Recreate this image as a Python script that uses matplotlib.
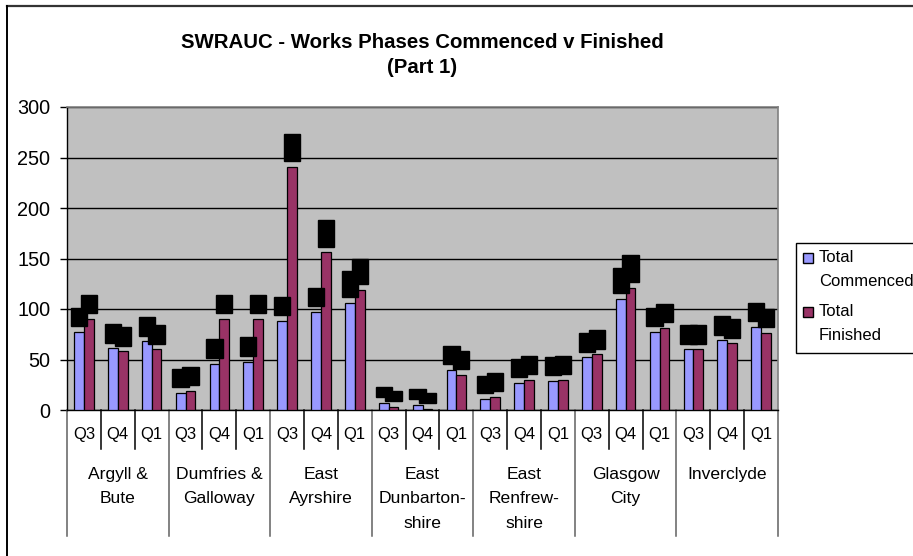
import numpy as np
import matplotlib
matplotlib.use('Agg')
import matplotlib.pyplot as plt
from matplotlib.patches import Rectangle
from matplotlib.lines import Line2D
import matplotlib.transforms as mtransforms

plt.rcParams['font.family'] = ['Liberation Sans', 'DejaVu Sans']

# -----------------------------------------------------------------------------
# DATOS
# -----------------------------------------------------------------------------
consejos = ['Argyll &\nBute', 'Dumfries &\nGalloway', 'East\nAyrshire',
            'East\nDunbarton-\nshire', 'East\nRenfrew-\nshire',
            'Glasgow\nCity', 'Inverclyde']
trimestres = ['Q3', 'Q4', 'Q1']

comenzados = [77, 61, 68,
              17, 46, 48,
              88, 97, 106,
              7, 5, 40,
              11, 27, 29,
              52, 110, 77,
              60, 69, 82]
terminados = [90, 58, 60,
              19, 90, 90,
              241, 156, 119,
              3, 1, 35,
              13, 30, 30,
              55, 121, 81,
              60, 66, 76]

COL_AZUL = '#9999FF'
COL_GRANATE = '#993366'

# -----------------------------------------------------------------------------
# FIGURA
# -----------------------------------------------------------------------------
W, H = 913, 556
fig = plt.figure(figsize=(W / 100, H / 100), dpi=100)
fig.patch.set_facecolor('white')

def fx(px):
    return px / W

def fy(py):
    return 1 - py / H

ax = fig.add_axes([fx(67), fy(410), fx(778) - fx(67), fy(107) - fy(410)])
ax.set_facecolor('#C0C0C0')

n = len(comenzados)
x = np.arange(n)
ancho = 0.29

b1 = ax.bar(x - ancho / 2, comenzados, ancho, color=COL_AZUL,
            edgecolor='black', linewidth=0.9, zorder=3)
b2 = ax.bar(x + ancho / 2, terminados, ancho, color=COL_GRANATE,
            edgecolor='black', linewidth=0.9, zorder=3)

# etiquetas de datos (se ven como cajas negras en el original)
for barras, vals in ((b1, comenzados), (b2, terminados)):
    for rect, v in zip(barras, vals):
        ax.annotate(str(v), (rect.get_x() + rect.get_width() / 2, v),
                    xytext=(0, 5), textcoords='offset points',
                    rotation=90, ha='center', va='bottom',
                    fontsize=10.4, color='black',
                    bbox=dict(boxstyle='square,pad=0.08', fc='black',
                              ec='black'),
                    zorder=5, annotation_clip=False)

ax.set_xlim(-0.5, n - 0.5)
ax.set_ylim(0, 300)
ax.set_yticks(range(0, 301, 50))
ax.yaxis.grid(True, color='black', linewidth=1)
ax.set_axisbelow(True)
ax.tick_params(axis='y', labelsize=14.3, length=5, width=1,
               direction='out', pad=7)
ax.set_xticks([])

for s in ('left', 'bottom'):
    ax.spines[s].set_color('black')
    ax.spines[s].set_linewidth(1)
for s in ('top', 'right'):
    ax.spines[s].set_color('#808080')
    ax.spines[s].set_linewidth(1.2)

# eje de categorías en dos niveles
tr = mtransforms.blended_transform_factory(ax.transData, ax.transAxes)
alto = 303.0
corto = -39 / alto
largo = -126 / alto
for i in range(n + 1):
    xb = i - 0.5
    fin = largo if i % 3 == 0 else corto
    ax.plot([xb, xb], [0, fin], color='black' if i % 3 else '#606060',
            linewidth=1.1, transform=tr, clip_on=False)

for i in range(n):
    ax.text(i, -25 / alto, trimestres[i % 3], transform=tr,
            ha='center', va='center', fontsize=12)

for k, nombre in enumerate(consejos):
    ax.text(3 * k + 1, -57 / alto, nombre, transform=tr,
            ha='center', va='top', fontsize=12.6, linespacing=1.78)

# título
fig.text(fx(422), fy(55), 'SWRAUC - Works Phases Commenced v Finished\n(Part 1)',
         ha='center', va='center', fontsize=14.7, fontweight='bold',
         linespacing=1.42)

# leyenda manual
fig.add_artist(Rectangle((fx(796), fy(353)), fx(200), fy(243) - fy(353),
                         transform=fig.transFigure, fc='white', ec='black',
                         lw=1, clip_on=False))
for cy, col, txt in ((258, COL_AZUL, 'Total\nCommenced'),
                     (312, COL_GRANATE, 'Total\nFinished')):
    fig.add_artist(Rectangle((fx(803), fy(cy + 5)), fx(10), fy(cy - 5) - fy(cy + 5),
                             transform=fig.transFigure, fc=col, ec='black',
                             lw=1))
    fig.text(fx(819), fy(cy - 8), txt, ha='left', va='top', fontsize=12,
             linespacing=1.78)

# borde exterior del gráfico
fig.add_artist(Line2D([fx(6.5), 1], [fy(5.5), fy(5.5)], color='#333333',
                      lw=1.6, transform=fig.transFigure))
fig.add_artist(Line2D([fx(6.5), fx(6.5)], [fy(5.5), 0], color='black',
                      lw=1.4, transform=fig.transFigure))

fig.savefig('out.png', dpi=100)
